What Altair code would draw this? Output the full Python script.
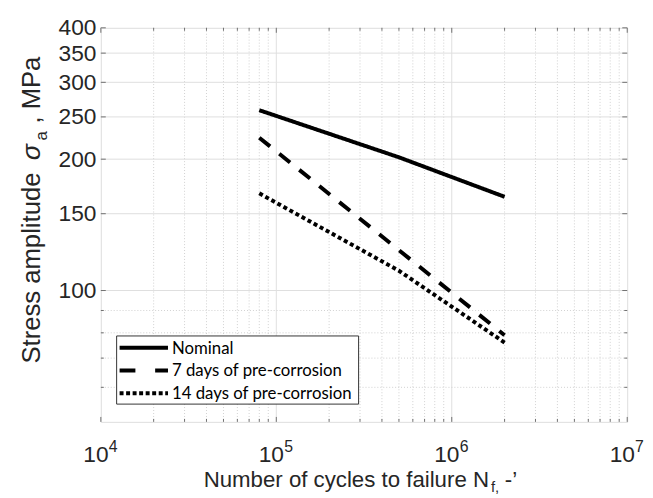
import altair as alt
import pandas as pd

# ---- data ----
series = ["Nominal", "7 days of pre-corrosion", "14 days of pre-corrosion"]
nominal_n = [8e4, 5e5, 2e6]
nominal_s = [259, 202, 164]
d7_n = [8e4, 2e6]
d7_s = [224, 79]
d14_n = [8e4, 5e5, 2e6]
d14_s = [167, 111, 76]

x_major = [1e4, 1e5, 1e6, 1e7]
x_base = ["10", "10", "10", "10"]
x_exp = ["4", "5", "6", "7"]
x_minor = [m * 10 ** e for e in (4, 5, 6) for m in range(2, 10)]
y_major = [100, 150, 200, 250, 300, 350, 400]
y_minor = [60, 70, 80, 90]

rows = []
for name, ns, ss in zip(series, [nominal_n, d7_n, d14_n], [nominal_s, d7_s, d14_s]):
    for n, s in zip(ns, ss):
        rows.append({"series": name, "N": n, "S": s})
df = pd.DataFrame(rows)

W, H = 533, 399
xs = alt.Scale(type="log", domain=[1e4, 1e7], nice=False)
ys = alt.Scale(type="log", domain=[50, 400], nice=False)

FONT = "Liberation Sans"
tcol = "#262626"

xa = alt.Axis(values=x_major, labels=False, grid=False, ticks=False, domain=False, title=None)
ya = alt.Axis(values=y_major, format="d", grid=False, ticks=False, domain=False,
              labelFontSize=23, labelFont=FONT, labelColor=tcol, labelPadding=5, title=None)

x_minor_df = pd.DataFrame({"v": x_minor})
x_major_df = pd.DataFrame({"v": x_major[1:-1]})
y_minor_df = pd.DataFrame({"v": y_minor})
y_major_df = pd.DataFrame({"v": y_major[:-1]})

grid_minor_x = alt.Chart(x_minor_df).mark_rule(color="#d0d0d0", strokeDash=[1, 2], strokeWidth=1).encode(
    x=alt.X("v:Q", scale=xs, axis=xa))
grid_major_x = alt.Chart(x_major_df).mark_rule(color="#dedede", strokeWidth=1).encode(
    x=alt.X("v:Q", scale=xs, axis=xa))
grid_minor_y = alt.Chart(y_minor_df).mark_rule(color="#d0d0d0", strokeDash=[1, 2], strokeWidth=1).encode(
    y=alt.Y("v:Q", scale=ys, axis=ya))
grid_major_y = alt.Chart(y_major_df).mark_rule(color="#dedede", strokeWidth=1).encode(
    y=alt.Y("v:Q", scale=ys, axis=ya))

# inward tick marks (MATLAB style)
tick_col = "#707070"
xt_major = pd.DataFrame({"v": x_major})
yt_major = pd.DataFrame({"v": y_major})
ticks = [
    alt.Chart(xt_major).mark_rule(color=tick_col).encode(x=alt.X("v:Q", scale=xs, axis=xa), y=alt.value(H), y2=alt.value(H - 5)),
    alt.Chart(xt_major).mark_rule(color=tick_col).encode(x=alt.X("v:Q", scale=xs, axis=xa), y=alt.value(0), y2=alt.value(5)),
    alt.Chart(x_minor_df).mark_rule(color=tick_col).encode(x=alt.X("v:Q", scale=xs, axis=xa), y=alt.value(H), y2=alt.value(H - 3)),
    alt.Chart(x_minor_df).mark_rule(color=tick_col).encode(x=alt.X("v:Q", scale=xs, axis=xa), y=alt.value(0), y2=alt.value(3)),
    alt.Chart(yt_major).mark_rule(color=tick_col).encode(y=alt.Y("v:Q", scale=ys, axis=ya), x=alt.value(0), x2=alt.value(5)),
    alt.Chart(yt_major).mark_rule(color=tick_col).encode(y=alt.Y("v:Q", scale=ys, axis=ya), x=alt.value(W), x2=alt.value(W - 5)),
    alt.Chart(y_minor_df).mark_rule(color=tick_col).encode(y=alt.Y("v:Q", scale=ys, axis=ya), x=alt.value(0), x2=alt.value(3)),
    alt.Chart(y_minor_df).mark_rule(color=tick_col).encode(y=alt.Y("v:Q", scale=ys, axis=ya), x=alt.value(W), x2=alt.value(W - 3)),
]

# x tick labels 10^n with raised exponent
xlab_df = pd.DataFrame({"v": x_major, "base": x_base, "exp": x_exp})
xlab_base = alt.Chart(xlab_df).mark_text(font=FONT, fontSize=23, align="center", baseline="alphabetic",
                                         dx=-5, color=tcol).encode(
    x=alt.X("v:Q", scale=xs, axis=xa), y=alt.value(H + 41), text="base:N")
xlab_exp = alt.Chart(xlab_df).mark_text(font=FONT, fontSize=16, align="left", baseline="alphabetic",
                                        dx=8, color=tcol).encode(
    x=alt.X("v:Q", scale=xs, axis=xa), y=alt.value(H + 30), text="exp:N")

dashes = [[1, 0], [14, 12], [4, 3]]
lines = alt.Chart(df).mark_line(strokeWidth=4, color="black", strokeCap="butt").encode(
    x=alt.X("N:Q", scale=xs, axis=xa),
    y=alt.Y("S:Q", scale=ys, axis=ya),
    strokeDash=alt.StrokeDash("series:N", sort=series,
                              scale=alt.Scale(domain=series, range=dashes), legend=None),
    detail="series:N",
)

# manual MATLAB-style legend box
legend_layers = [
    alt.Chart().mark_rect(fill="white", stroke="#333333", strokeWidth=1).encode(
        x=alt.value(16), x2=alt.value(261), y=alt.value(312), y2=alt.value(381))
]
for i, (name, dash) in enumerate(zip(series, [[49, 0], [16, 20], [4, 2.6]])):
    yy = 324 + i * 23
    legend_layers.append(alt.Chart().mark_rule(color="black", strokeWidth=4, strokeDash=dash, strokeCap="butt").encode(
        x=alt.value(19), x2=alt.value(68), y=alt.value(yy)))
    legend_layers.append(alt.Chart().mark_text(text=name, font="Lato", fontSize=17, align="left",
                                               baseline="middle", color="black").encode(
        x=alt.value(72), y=alt.value(yy + 1)))

# axis titles as text (with sub/superscripts)
xt1 = alt.Chart().mark_text(text="Number of cycles to failure N", font=FONT, fontSize=22.5, align="right",
                            baseline="alphabetic", color=tcol).encode(x=alt.value(393), y=alt.value(465))
xt2 = alt.Chart().mark_text(text="f,", font=FONT, fontSize=15, align="left",
                            baseline="alphabetic", color=tcol).encode(x=alt.value(395), y=alt.value(470))
xt3 = alt.Chart().mark_text(text="-\u2019", font=FONT, fontSize=22.5, align="left",
                            baseline="alphabetic", color=tcol).encode(x=alt.value(409), y=alt.value(465))

YB = -62  # baseline x of rotated y title (view coords)
yt1 = alt.Chart().mark_text(text="Stress amplitude", font=FONT, fontSize=26, align="left", angle=270,
                            baseline="alphabetic", color=tcol).encode(x=alt.value(YB), y=alt.value(340))
yt_sig = alt.Chart().mark_text(text="\u03c3", font=FONT, fontSize=27, fontStyle="italic", align="left", angle=270,
                               baseline="alphabetic", color=tcol).encode(x=alt.value(YB), y=alt.value(134))
yt2 = alt.Chart().mark_text(text="a", font=FONT, fontSize=17, align="left", angle=270,
                            baseline="alphabetic", color=tcol).encode(x=alt.value(YB + 7), y=alt.value(114))
yt3 = alt.Chart().mark_text(text=",  MPa", font=FONT, fontSize=26, align="left", angle=270,
                            baseline="alphabetic", color=tcol).encode(x=alt.value(YB), y=alt.value(97))

chart = alt.layer(grid_minor_x, grid_major_x, grid_minor_y, grid_major_y, *ticks, lines,
                  *legend_layers, xlab_base, xlab_exp, xt1, xt2, xt3, yt1, yt_sig, yt2, yt3).properties(
    width=W, height=H,
    autosize=alt.AutoSizeParams(type="none"),
    padding={"left": 94, "top": 17, "right": 18, "bottom": 74},
).configure_view(stroke="#808080", strokeWidth=1).configure(background="white")

chart.save("out.html", embed_options={"renderer": "svg", "actions": False})
